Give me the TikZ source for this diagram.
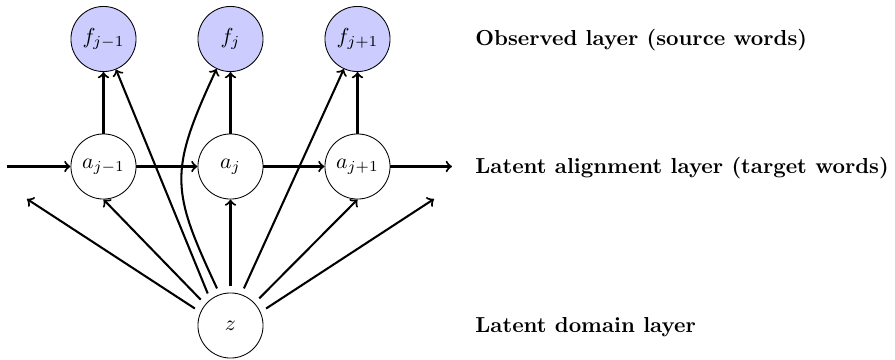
\documentclass[tikz,border=0pt]{standalone}
\usetikzlibrary{calc}
\begin{document}
\begin{tikzpicture}[x=0.4608pt,y=-0.4608pt,
  latent/.style={circle,draw,thin,minimum size=30pt,inner sep=0pt},
  observed/.style={latent,fill=blue!20},
  conn/.style={->,line width=0.95pt},
  zconn/.style={conn,shorten <=3pt},
  layerlabel/.style={anchor=base west,font=\bfseries,inner sep=0pt}]
\useasboundingbox (0,0) rectangle (895,360);
% observed layer
\node[observed] (fjm1) at (103.5,39) {$f_{j-1}$};
\node[observed] (fj)   at (230.5,39) {$f_{j}$};
\node[observed] (fjp1) at (357.5,39) {$f_{j+1}$};
% alignment layer
\node[latent] (ajm1) at (103.5,166.5) {$a_{j-1}$};
\node[latent] (aj)   at (230.5,166.5) {$a_{j}$};
\node[latent] (ajp1) at (357.5,166.5) {$a_{j+1}$};
% domain layer
\node[latent] (z) at (230.5,325.5) {$z$};
% free ends
\coordinate (lin)  at (7,166.5);
\coordinate (rout) at (452,166.5);
\coordinate (zl)   at (27,199);
\coordinate (zr)   at (434,199);
% labels
\node[layerlabel] (lobs) at (475,45)  {Observed layer (source words)};
\node[layerlabel] (lali) at (475,173) {Latent alignment layer (target words)};
\node[layerlabel] (ldom) at (475,332) {Latent domain layer};
% chain
\draw[conn] (lin) -- (ajm1);
\draw[conn] (ajm1) -- (aj);
\draw[conn] (aj) -- (ajp1);
\draw[conn] (ajp1) -- (rout);
% emissions
\draw[conn] (ajm1) -- (fjm1);
\draw[conn] (aj) -- (fj);
\draw[conn] (ajp1) -- (fjp1);
% from z
\draw[zconn] (z.156) -- (zl);
\draw[zconn] (z.140) -- (ajm1.south);
\draw[zconn] (z.128) -- (fjm1);
\draw[zconn] (z.109) to[out=115,in=245,looseness=1.3] (fj.245);
\draw[zconn] (z.90) -- (aj.south);
\draw[zconn] (z.71) -- (fjp1);
\draw[zconn] (z.43) -- (ajp1.south);
\draw[zconn] (z.24) -- (zr);
\end{tikzpicture}
\end{document}
